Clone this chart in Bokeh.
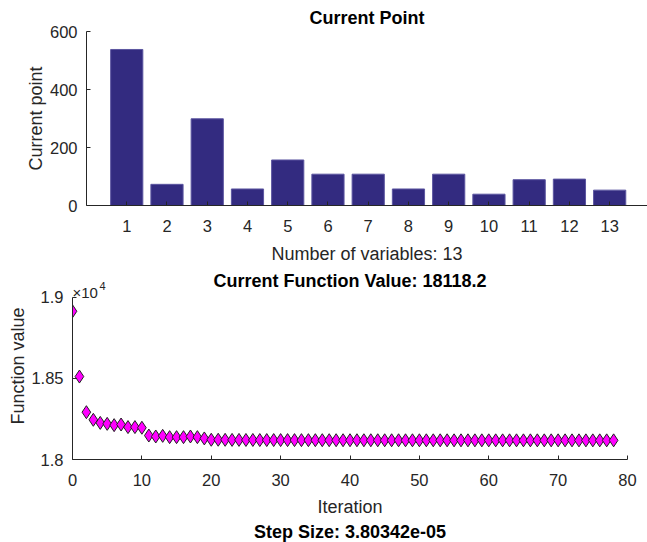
from bokeh.plotting import figure
from bokeh.models import Range1d, FixedTicker, Label, Title
from bokeh.embed import file_html
from bokeh.resources import INLINE

# ---- data ----
variables = list(range(1, 14))
current_point = [538, 73, 299, 57, 157, 108, 108, 57, 108, 39, 89, 91, 53]
bar_ticks = list(range(1, 14))
point_yticks = [0, 200, 400, 600]

iterations = list(range(0, 79))
function_value = [
    18915, 18512, 18292, 18245, 18226, 18220, 18212, 18216, 18200, 18200,
    18196, 18148, 18142, 18146, 18138, 18138, 18138, 18142, 18138, 18130,
    18122, 18122, 18121.5, 18121, 18121, 18120.5, 18120.5, 18120, 18120, 18120,
    18119.8, 18119.7, 18119.6, 18119.5, 18119.4, 18119.3, 18119.2, 18119.2, 18119.1, 18119.0,
    18119.0, 18118.9, 18118.9, 18118.8, 18118.8, 18118.7, 18118.7, 18118.7, 18118.6, 18118.6,
    18118.6, 18118.5, 18118.5, 18118.5, 18118.5, 18118.4, 18118.4, 18118.4, 18118.4, 18118.4,
    18118.3, 18118.3, 18118.3, 18118.3, 18118.3, 18118.3, 18118.3, 18118.3, 18118.3, 18118.3,
    18118.3, 18118.3, 18118.3, 18118.2, 18118.2, 18118.2, 18118.2, 18118.2, 18118.2,
]
iter_ticks = [0, 10, 20, 30, 40, 50, 60, 70, 80]
fval_ticks = [18000, 18500, 19000]
fval_tick_labels = ["1.8", "1.85", "1.9"]

title_top = "Current Point"
xlabel_top = "Number of variables: 13"
ylabel_top = "Current point"
title_bot = "Current Function Value: 18118.2"
xlabel_bot = "Iteration"
ylabel_bot = "Function value"
title_next = "Step Size: 3.80342e-05"

FONT = "Liberation Sans"
AX = "#262626"


def style_axes(p):
    p.xgrid.visible = False
    p.ygrid.visible = False
    p.outline_line_color = None
    p.background_fill_color = "white"
    p.border_fill_color = "white"
    for ax in (p.xaxis[0], p.yaxis[0]):
        ax.axis_line_color = AX
        ax.axis_line_width = 1
        ax.major_tick_line_color = AX
        ax.major_tick_in = 4
        ax.major_tick_out = 0
        ax.minor_tick_line_color = None
        ax.major_label_text_font = FONT
        ax.major_label_text_font_size = "16.5px"
        ax.major_label_text_color = AX
        ax.axis_label_text_font = FONT
        ax.axis_label_text_font_size = "18px"
        ax.axis_label_text_font_style = "normal"
        ax.axis_label_text_color = AX
    p.yaxis[0].major_label_standoff = 9
    p.xaxis[0].major_label_standoff = 14


# ---- top: bar chart ----
p1 = figure(width=647, height=270, output_backend="svg", toolbar_location=None,
            x_range=Range1d(0, 13.94), y_range=Range1d(0, 600),
            title=title_top, x_axis_label=xlabel_top, y_axis_label=ylabel_top,
            min_border_left=86, min_border_right=0, min_border_top=31, min_border_bottom=65)
p1.vbar(x=variables, top=current_point, width=0.8, fill_color="#332B80",
        line_color="#5C56A0", line_width=1)
p1.xaxis[0].ticker = FixedTicker(ticks=bar_ticks)
p1.yaxis[0].ticker = FixedTicker(ticks=point_yticks)
style_axes(p1)
p1.yaxis[0].axis_label_standoff = 1
p1.xaxis[0].axis_label_standoff = 9
p1.title.text_font = FONT
p1.title.text_font_size = "18px"
p1.title.text_font_style = "bold"
p1.title.text_color = "black"
p1.title.align = "center"
p1.title.standoff = 8

# ---- bottom: function value ----
p2 = figure(width=647, height=272, output_backend="svg", toolbar_location=None,
            x_range=Range1d(0, 80), y_range=Range1d(18000, 19154.3),
            x_axis_label=xlabel_bot, y_axis_label=ylabel_bot,
            min_border_left=72, min_border_right=20, min_border_top=2, min_border_bottom=83)
p2.scatter(iterations, function_value, marker="diamond", size=13,
           fill_color="#FF00FF", line_color="#222222", line_width=1)
p2.xaxis[0].ticker = FixedTicker(ticks=iter_ticks)
p2.yaxis[0].ticker = FixedTicker(ticks=fval_ticks)
p2.yaxis[0].bounds = (18000, 19000)
p2.yaxis[0].major_label_overrides = dict(zip(fval_ticks, fval_tick_labels))
style_axes(p2)
p2.yaxis[0].axis_label_standoff = 0
p2.xaxis[0].axis_label_standoff = 8

p2.add_layout(Label(x=40, y=19000, y_offset=16, text=title_bot,
                    text_font=FONT, text_font_size="18px", text_font_style="bold",
                    text_color="black", text_align="center", text_baseline="middle"))
p2.add_layout(Label(x=0, y=19000, x_offset=0, y_offset=5, text="×10",
                    text_font=FONT, text_font_size="15px", text_color=AX,
                    text_baseline="alphabetic"))
p2.add_layout(Label(x=0, y=19000, x_offset=27, y_offset=11, text="4",
                    text_font=FONT, text_font_size="11px", text_color=AX,
                    text_baseline="alphabetic"))

t3 = Title(text=title_next, align="center", text_font=FONT, text_font_size="18px",
           text_font_style="bold", text_color="black", standoff=0)
p2.add_layout(t3, "below")

open("out.html", "w").write(file_html([p1, p2], INLINE))
